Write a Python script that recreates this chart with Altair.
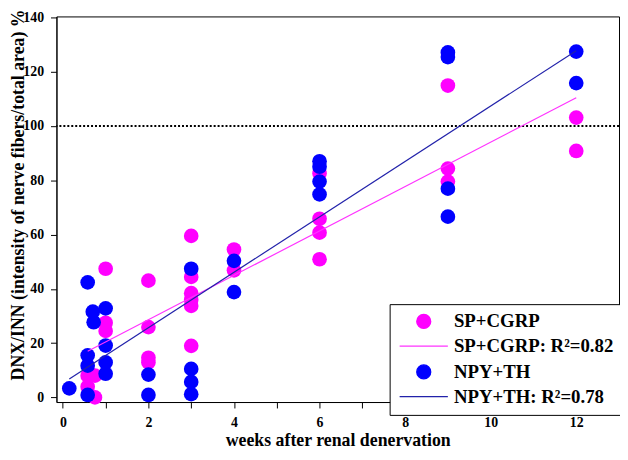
import altair as alt
import pandas as pd

# ---- data ----
sp_weeks = [0.58, 0.58, 0.75, 0.75, 1, 1, 1, 2, 2, 2, 2, 3, 3, 3, 3, 3, 3,
            4, 4, 6, 6, 6, 6, 9, 9, 9, 12, 12]
sp_values = [8, 3.9, 8, 0, 47.4, 27.5, 24.5, 43, 25.9, 14.6, 12.9, 59.5, 44.4,
             38.4, 36, 33.7, 19, 54.5, 46.8, 82.5, 65.8, 60.7, 50.9, 114.9,
             84.3, 79.5, 103.1, 90.8]
npy_weeks = [0.15, 0.58, 0.58, 0.58, 0.58, 0.7, 0.72, 1, 1, 1, 1, 2, 2,
             3, 3, 3, 3, 4, 4, 6, 6, 6, 6, 9, 9, 9, 9, 12, 12]
npy_values = [3.3, 42.4, 15.5, 11.7, 0.9, 31.6, 27.7, 32.8, 19.1, 12.9, 8.7,
              8.4, 0.9, 47.4, 10.5, 5.7, 1.2, 50.3, 38.8, 87, 85, 79.5, 74.8,
              127.1, 125.4, 76.9, 66.6, 127.4, 115.8]

series_names = ["SP+CGRP", "NPY+TH"]
fit_names = ["SP+CGRP: R²=0.82", "NPY+TH: R²=0.78"]
legend_keys = ["SP+CGRP", "SP+CGRP: R²=0.82", "NPY+TH", "NPY+TH: R²=0.78"]
legend_colors = ["#FF00FF", "#FF33FF", "#0000FF", "#2222AA"]
legend_shapes = ["circle", "M-3.45,0H3.45", "circle", "M-3.45,0H3.45"]
reference_level = [100]
x_ticks = list(range(0, 13))
y_ticks = [0, 20, 40, 60, 80, 100, 120, 140]

rows = []
for w, v in zip(sp_weeks, sp_values):
    rows.append({"week": w, "value": v, "key": series_names[0], "fit": fit_names[0]})
for w, v in zip(npy_weeks, npy_values):
    rows.append({"week": w, "value": v, "key": series_names[1], "fit": fit_names[1]})
df = pd.DataFrame(rows)

FONT = "Liberation Serif"

xscale = alt.Scale(domain=[-0.15, 13.0], nice=False, zero=False)
yscale = alt.Scale(domain=[-1.71, 140.36], nice=False, zero=False)
color_scale = alt.Scale(domain=legend_keys, range=legend_colors)
shape_scale = alt.Scale(domain=legend_keys, range=legend_shapes)

x_axis = alt.Axis(values=x_ticks, labelExpr="datum.value % 2 == 0 ? datum.label : ''",
                  title="weeks after renal denervation", grid=False,
                  tickSize=6, labelPadding=8, titleY=44, titleBaseline="alphabetic")
y_axis = alt.Axis(values=y_ticks, grid=False, tickSize=6, labelPadding=7,
                  title="DNX/INN (intensity of nerve fibers/total area) %",
                  titleX=-38.5, titleY=180, titleAngle=-90, titleAlign="center",
                  titleBaseline="middle")

legend = alt.Legend(title=None, orient="none", legendX=337, legendY=291,
                    strokeColor="black", fillColor="white", padding=8,
                    labelFont=FONT, labelFontSize=19, labelFontWeight="bold",
                    labelColor="black", labelLimit=400, symbolSize=200,
                    symbolStrokeWidth=1.3, symbolOffset=17, labelOffset=21,
                    rowPadding=5, symbolOpacity=1)

points = alt.Chart(df).mark_point(filled=True, size=220, opacity=1).encode(
    x=alt.X("week:Q", scale=xscale, axis=x_axis),
    y=alt.Y("value:Q", scale=yscale, axis=y_axis),
    color=alt.Color("key:N", scale=color_scale, legend=legend),
    shape=alt.Shape("key:N", scale=shape_scale, legend=legend),
)

lines = alt.Chart(df).transform_regression(
    "week", "value", groupby=["fit"]
).transform_calculate(key="datum.fit").mark_line(strokeWidth=1.2).encode(
    x=alt.X("week:Q", scale=xscale),
    y=alt.Y("value:Q", scale=yscale),
    color=alt.Color("key:N", scale=color_scale, legend=legend),
)

ref = alt.Chart(pd.DataFrame({"level": reference_level})).mark_rule(
    color="black", strokeDash=[2, 2], strokeWidth=2
).encode(y=alt.Y("level:Q", scale=yscale))

chart = alt.layer(points, ref, lines).properties(
    width=569, height=390,
    background="white",
    autosize=alt.AutoSizeParams(type="none"),
    padding={"left": 49, "top": 6, "right": 1, "bottom": 48},
).configure_view(stroke="black", strokeWidth=1).configure_axis(
    labelFont=FONT, labelFontSize=14, labelFontWeight="bold", labelColor="black",
    titleFont=FONT, titleFontSize=18, titleFontWeight="bold", titleColor="black",
    domainColor="black", tickColor="black", domainWidth=1, tickWidth=1,
)

chart.save("out.html", embed_options={"renderer": "svg", "actions": False})
